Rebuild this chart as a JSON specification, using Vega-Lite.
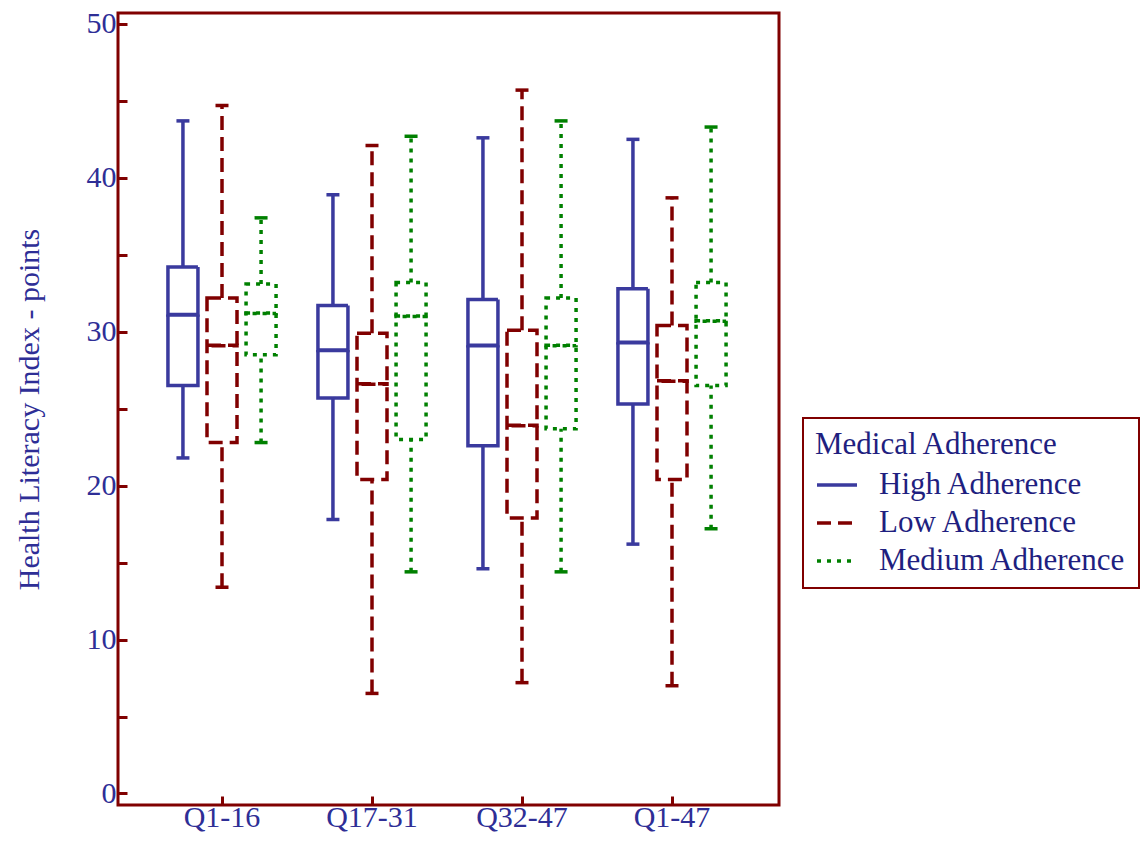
{
  "$schema": "https://vega.github.io/schema/vega-lite/v6.json",
  "autosize": "none",
  "padding": {"left": 118, "top": 13, "right": 363, "bottom": 41},
  "width": 661,
  "height": 792,
  "background": "white",
  "data": {
    "values": [
      {"group": "Q1-16", "series": "High Adherence", "min": 21.8, "q1": 26.5, "median": 31.1, "q3": 34.2, "max": 43.7},
      {"group": "Q1-16", "series": "Low Adherence", "min": 13.4, "q1": 22.8, "median": 29.1, "q3": 32.2, "max": 44.7},
      {"group": "Q1-16", "series": "Medium Adherence", "min": 22.8, "q1": 28.5, "median": 31.2, "q3": 33.1, "max": 37.4},
      {"group": "Q17-31", "series": "High Adherence", "min": 17.8, "q1": 25.7, "median": 28.8, "q3": 31.7, "max": 38.9},
      {"group": "Q17-31", "series": "Low Adherence", "min": 6.5, "q1": 20.4, "median": 26.6, "q3": 29.9, "max": 42.1},
      {"group": "Q17-31", "series": "Medium Adherence", "min": 14.4, "q1": 23.0, "median": 31.0, "q3": 33.2, "max": 42.7},
      {"group": "Q32-47", "series": "High Adherence", "min": 14.6, "q1": 22.6, "median": 29.1, "q3": 32.1, "max": 42.6},
      {"group": "Q32-47", "series": "Low Adherence", "min": 7.2, "q1": 17.9, "median": 23.9, "q3": 30.1, "max": 45.7},
      {"group": "Q32-47", "series": "Medium Adherence", "min": 14.4, "q1": 23.7, "median": 29.1, "q3": 32.2, "max": 43.7},
      {"group": "Q1-47", "series": "High Adherence", "min": 16.2, "q1": 25.3, "median": 29.3, "q3": 32.8, "max": 42.5},
      {"group": "Q1-47", "series": "Low Adherence", "min": 7.0, "q1": 20.4, "median": 26.8, "q3": 30.4, "max": 38.7},
      {"group": "Q1-47", "series": "Medium Adherence", "min": 17.2, "q1": 26.5, "median": 30.7, "q3": 33.2, "max": 43.3}
    ]
  },
  "encoding": {
    "x": {
      "field": "group", "type": "nominal", "title": null,
      "scale": {"domain": ["Q1-16", "Q17-31", "Q32-47", "Q1-47"], "range": [29, 629], "paddingInner": 0, "paddingOuter": 0},
      "axis": {"labelAngle": 0, "labelPadding": 6, "domain": false}
    },
    "xOffset": {
      "field": "series", "type": "nominal",
      "scale": {"domain": ["High Adherence", "Low Adherence", "Medium Adherence"], "paddingInner": 0, "paddingOuter": 0.42}
    },
    "color": {
      "field": "series", "type": "nominal", "title": "Medical Adherence",
      "scale": {"domain": ["High Adherence", "Low Adherence", "Medium Adherence"], "range": ["#3a3a9e", "#800000", "#008000"]}
    },
    "strokeDash": {
      "field": "series", "type": "nominal", "title": "Medical Adherence",
      "scale": {"domain": ["High Adherence", "Low Adherence", "Medium Adherence"], "range": [[1, 0], [14, 7], [4, 6]]}
    }
  },
  "layer": [
    {
      "mark": {"type": "rule", "strokeWidth": 3.5, "opacity": 1},
      "encoding": {
        "y": {"field": "min", "type": "quantitative", "title": "Health Literacy Index - points",
          "scale": {"domain": [-0.75, 50.71], "nice": false, "zero": false},
          "axis": {"values": [0, 5, 10, 15, 20, 25, 30, 35, 40, 45, 50], "labelExpr": "datum.value % 10 == 0 ? datum.label : ''", "domain": false}},
        "y2": {"field": "q1"}
      }
    },
    {
      "mark": {"type": "rule", "strokeWidth": 3.5, "opacity": 1},
      "encoding": {
        "y": {"field": "q3", "type": "quantitative", "title": "Health Literacy Index - points"},
        "y2": {"field": "max"}
      }
    },
    {
      "mark": {"type": "bar", "filled": false, "width": 30, "strokeWidth": 3.5, "opacity": 1},
      "encoding": {
        "y": {"field": "q1", "type": "quantitative", "title": "Health Literacy Index - points"},
        "y2": {"field": "q3"}
      }
    },
    {
      "mark": {"type": "tick", "filled": false, "size": 30, "thickness": 0.5, "strokeWidth": 3.5, "orient": "horizontal", "opacity": 1},
      "encoding": {
        "y": {"field": "median", "type": "quantitative", "title": "Health Literacy Index - points"}
      }
    },
    {
      "mark": {"type": "tick", "size": 13, "thickness": 3.5, "orient": "horizontal", "opacity": 1},
      "encoding": {
        "y": {"field": "min", "type": "quantitative", "title": "Health Literacy Index - points"}
      }
    },
    {
      "mark": {"type": "tick", "size": 13, "thickness": 3.5, "orient": "horizontal", "opacity": 1},
      "encoding": {
        "y": {"field": "max", "type": "quantitative", "title": "Health Literacy Index - points"}
      }
    }
  ],
  "config": {
    "view": {"stroke": "#800000", "strokeWidth": 3},
    "axis": {
      "grid": false,
      "domain": false,
      "tickColor": "#800000",
      "tickWidth": 3,
      "tickSize": -9,
      "labelFont": "Liberation Serif",
      "labelFontSize": 30,
      "labelColor": "#2e2e96",
      "titleFont": "Liberation Serif",
      "titleFontSize": 30,
      "titleFontWeight": "normal",
      "titleColor": "#2e2e96"
    },
    "axisY": {"labelPadding": 11, "titlePadding": 42},
    "legend": {
      "orient": "none",
      "legendX": 685,
      "legendY": 405,
      "strokeColor": "#800000",
      "strokeWidth": 2,
      "padding": 12,
      "titleFont": "Liberation Serif",
      "titleFontSize": 31,
      "titleFontWeight": "normal",
      "titleColor": "#1f1f80",
      "titlePadding": 2,
      "titleLimit": 500,
      "labelFont": "Liberation Serif",
      "labelFontSize": 31,
      "labelColor": "#1f1f80",
      "labelOffset": 20,
      "labelLimit": 500,
      "symbolType": "stroke",
      "symbolSize": 1600,
      "symbolStrokeWidth": 3.5,
      "rowPadding": 1
    }
  }
}
